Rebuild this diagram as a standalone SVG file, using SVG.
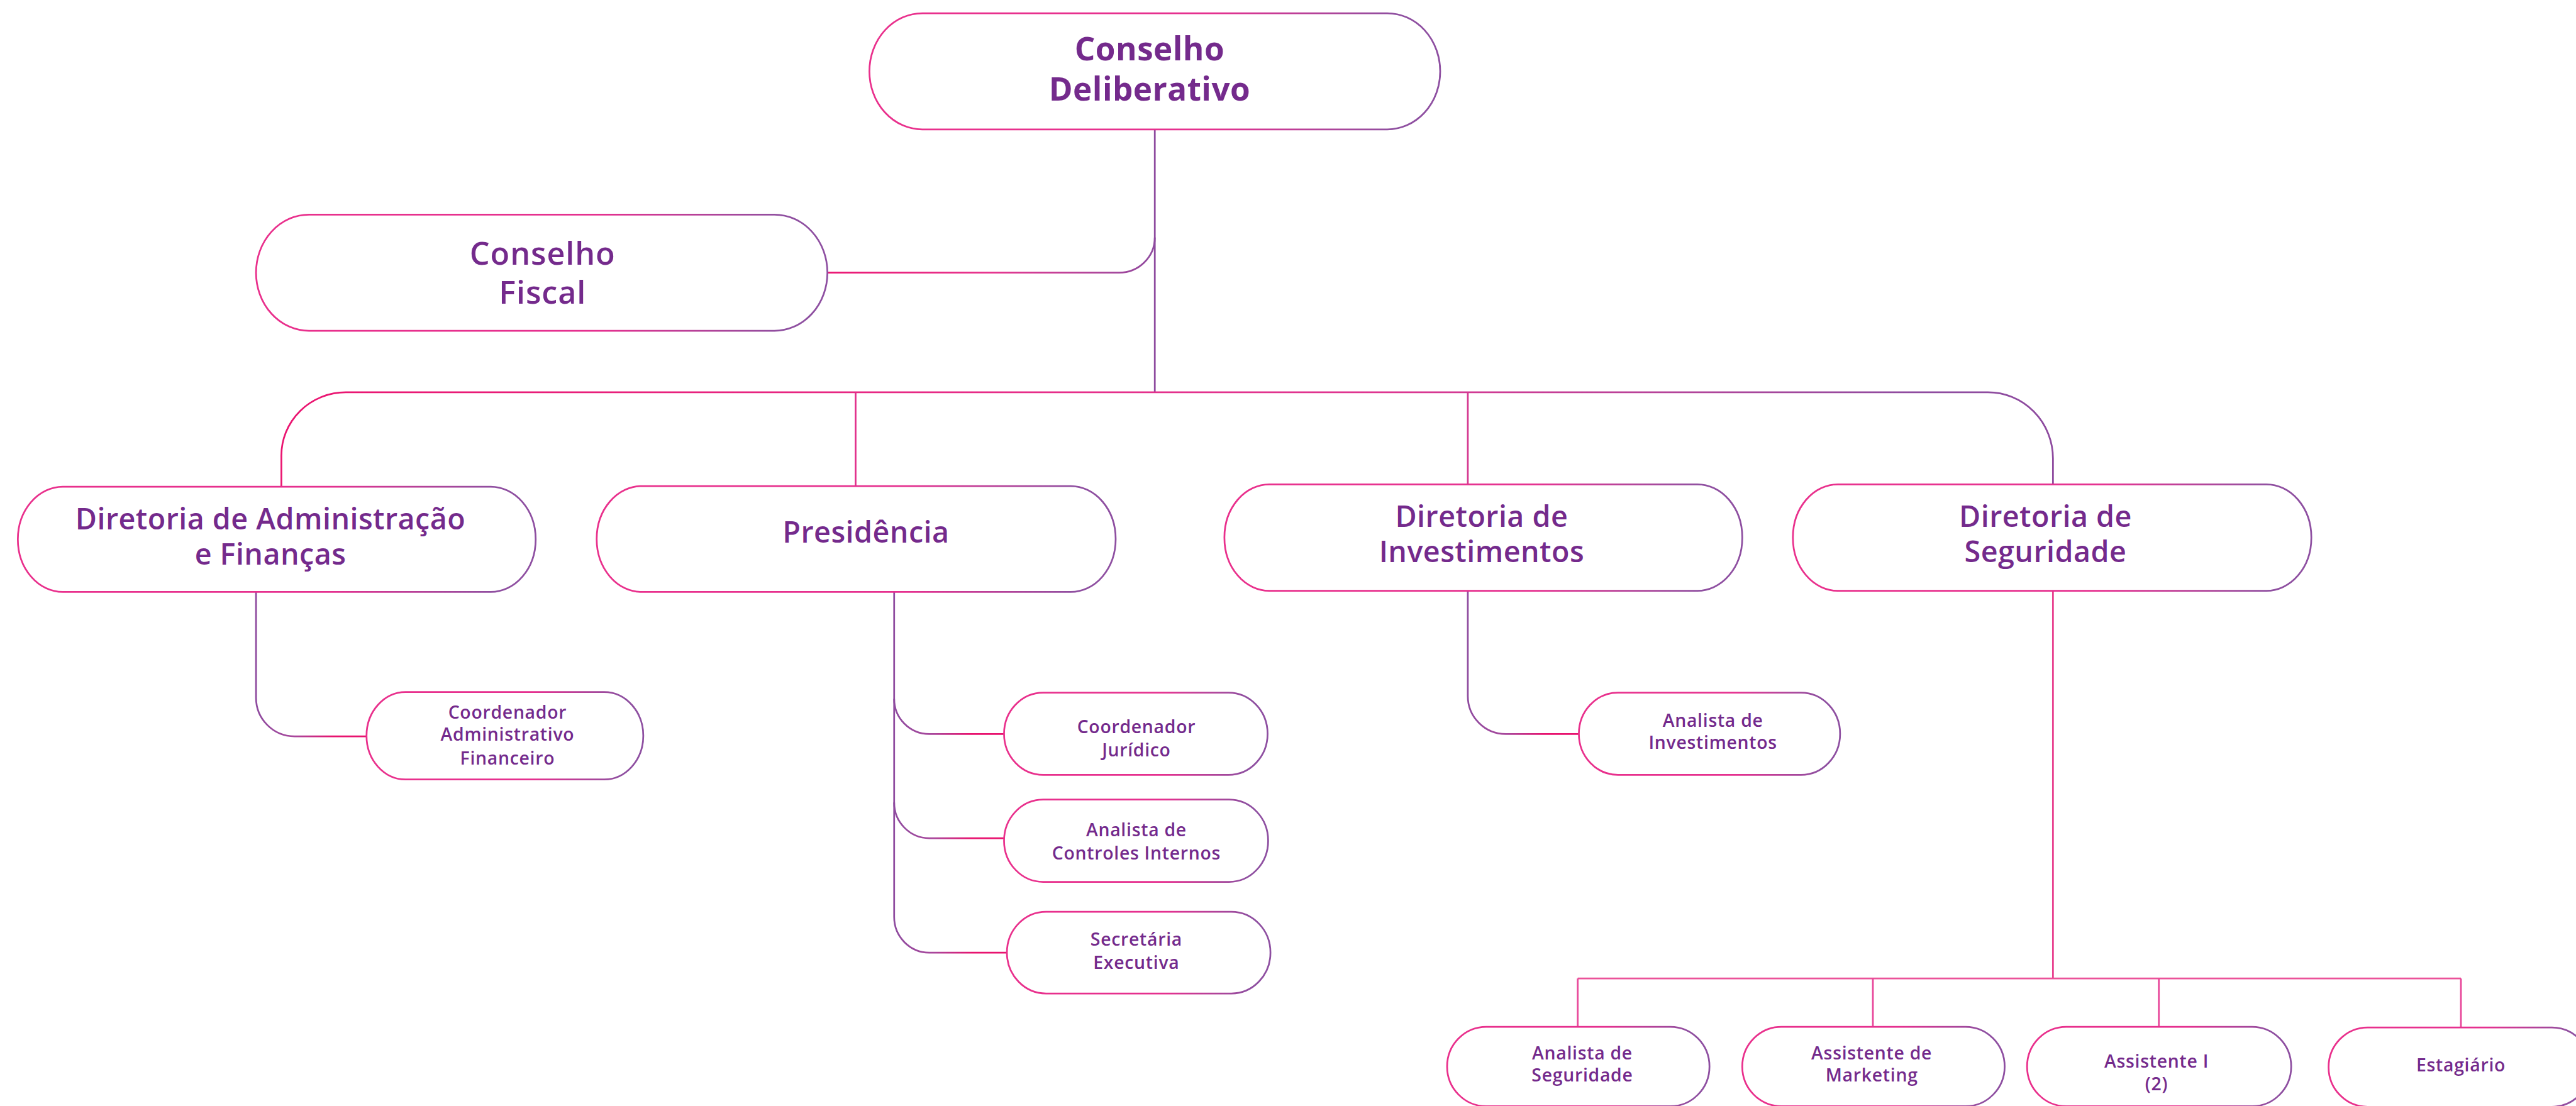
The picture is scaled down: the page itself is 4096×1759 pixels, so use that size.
<svg xmlns="http://www.w3.org/2000/svg" width="4096" height="1759" viewBox="0 0 4096 1759">
<defs>
<linearGradient id="gBox" x1="0" y1="0" x2="1" y2="0">
<stop offset="0" stop-color="#E9308C"/>
<stop offset="0.6" stop-color="#E5308F"/>
<stop offset="0.92" stop-color="#8F4FA0"/>
<stop offset="1" stop-color="#8E4FA1"/>
</linearGradient>
<linearGradient id="gCF" x1="0" y1="0" x2="1" y2="0">
<stop offset="0" stop-color="#EA1270"/>
<stop offset="0.5" stop-color="#E6308C"/>
<stop offset="1" stop-color="#8E4B9F"/>
</linearGradient>
<linearGradient id="gBus" x1="0" y1="0" x2="1" y2="0">
<stop offset="0" stop-color="#EA1470"/>
<stop offset="0.45" stop-color="#E62E8A"/>
<stop offset="0.62" stop-color="#DE3590"/>
<stop offset="0.8" stop-color="#B0449A"/>
<stop offset="0.92" stop-color="#8E4B9F"/>
<stop offset="1" stop-color="#8E4B9F"/>
</linearGradient>
<linearGradient id="gBranch" x1="0" y1="0" x2="1" y2="0">
<stop offset="0" stop-color="#8E4B9F"/>
<stop offset="0.35" stop-color="#A8479C"/>
<stop offset="0.7" stop-color="#E8136F"/>
<stop offset="1" stop-color="#E8136F"/>
</linearGradient>
</defs>
<style>
.box{fill:#FFFFFF;stroke:url(#gBox);stroke-width:3}
.c{fill:none;stroke-width:3}
.t{fill:#742A8C;font-family:"Open Sans","Liberation Sans",sans-serif;text-anchor:middle}
.t1{font-size:56px;font-weight:700;letter-spacing:0.5px}
.t2{font-size:55px;font-weight:600;letter-spacing:1px}
.t3{font-size:51px;font-weight:600;letter-spacing:0.5px}
.t4{font-size:31px;font-weight:600;letter-spacing:0.8px}
</style>
<rect width="4096" height="1759" fill="#FFFFFF"/>
<g transform="scale(0.9149)">
<g id="connectors">
<path class="c" d="M2007,225 V682" stroke="#8E4B9F"/>
<path class="c" d="M1438,474 H1945 A62 61 0 0 0 2007,413" stroke="url(#gCF)"/>
<path class="c" d="M489,846 V792 A112 110 0 0 1 601,682 H3455 A113 115 0 0 1 3568,797 V842" stroke="url(#gBus)"/>
<path class="c" d="M1487,682 V845" stroke="#E2308B"/>
<path class="c" d="M2551,682 V842" stroke="#D4368F"/>
<path class="c" d="M445,1029 V1213 A67 67 0 0 0 512,1280 H637" stroke="url(#gBranch)"/>
<path class="c" d="M1554,1029 V1594 A61 62 0 0 0 1615,1656 H1750" stroke="url(#gBranch)"/>
<path class="c" d="M1554,1215 A61 61 0 0 0 1615,1276 H1745" stroke="url(#gBranch)"/>
<path class="c" d="M1554,1395 A61 62 0 0 0 1615,1457 H1745" stroke="url(#gBranch)"/>
<path class="c" d="M2551,1027 V1210 A66 66 0 0 0 2617,1276 H2744" stroke="url(#gBranch)"/>
<path class="c" d="M3568,1027 V1701" stroke="#E8408E" stroke-width="2"/>
<path class="c" d="M2742,1701 H4277" stroke="#EB5299" stroke-width="4.5"/>
<path class="c" d="M2742,1701 V1785 M3255,1701 V1785 M3752,1701 V1785 M4277,1701 V1786" stroke="#E8479A" stroke-width="2"/>
</g>
<g id="conselho-deliberativo">
<rect class="box" x="1511" y="23" width="992" height="202" rx="92" ry="101"/>
<text class="t t1" x="1998" y="105">Conselho</text>
<text class="t t1" x="1998" y="175">Deliberativo</text>
</g>
<g id="conselho-fiscal">
<rect class="box" x="445" y="373" width="993" height="202" rx="92" ry="101"/>
<text class="t t2" x="943" y="460">Conselho</text>
<text class="t t2" x="943" y="528">Fiscal</text>
</g>
<g id="dir-adm-financas">
<rect class="box" x="31" y="846" width="900" height="183" rx="78" ry="91.5"/>
<text class="t t3" x="470" y="920">Diretoria de Administração</text>
<text class="t t3" x="470" y="981">e Finanças</text>
</g>
<g id="presidencia">
<rect class="box" x="1037" y="845" width="902" height="184" rx="78" ry="92"/>
<text class="t t3" x="1505" y="943">Presidência</text>
</g>
<g id="dir-investimentos">
<rect class="box" x="2128" y="842" width="900" height="185" rx="78" ry="92"/>
<text class="t t3" x="2575" y="916">Diretoria de</text>
<text class="t t3" x="2575" y="977">Investimentos</text>
</g>
<g id="dir-seguridade">
<rect class="box" x="3116" y="842" width="901" height="185" rx="78" ry="92"/>
<text class="t t3" x="3555" y="916">Diretoria de</text>
<text class="t t3" x="3555" y="977">Seguridade</text>
</g>
<g id="coord-adm-fin">
<rect class="box" x="637" y="1203" width="481" height="152" rx="68" ry="76"/>
<text class="t t4" x="882" y="1249">Coordenador</text>
<text class="t t4" x="882" y="1288">Administrativo</text>
<text class="t t4" x="882" y="1329">Financeiro</text>
</g>
<g id="coord-juridico">
<rect class="box" x="1745" y="1204" width="458" height="143" rx="68" ry="71.5"/>
<text class="t t4" x="1975" y="1274">Coordenador</text>
<text class="t t4" x="1975" y="1315">Jurídico</text>
</g>
<g id="analista-controles">
<rect class="box" x="1745" y="1390" width="459" height="143" rx="68" ry="71.5"/>
<text class="t t4" x="1975" y="1454">Analista de</text>
<text class="t t4" x="1975" y="1494">Controles Internos</text>
</g>
<g id="secretaria-executiva">
<rect class="box" x="1750" y="1585" width="458" height="142" rx="68" ry="71"/>
<text class="t t4" x="1975" y="1644">Secretária</text>
<text class="t t4" x="1975" y="1684">Executiva</text>
</g>
<g id="analista-investimentos">
<rect class="box" x="2744" y="1204" width="454" height="143" rx="68" ry="71.5"/>
<text class="t t4" x="2977" y="1263">Analista de</text>
<text class="t t4" x="2977" y="1302">Investimentos</text>
</g>
<g id="analista-seguridade">
<rect class="box" x="2515" y="1785" width="456" height="138" rx="68" ry="69"/>
<text class="t t4" x="2750" y="1842">Analista de</text>
<text class="t t4" x="2750" y="1880">Seguridade</text>
</g>
<g id="assistente-marketing">
<rect class="box" x="3028" y="1785" width="456" height="138" rx="68" ry="69"/>
<text class="t t4" x="3253" y="1842">Assistente de</text>
<text class="t t4" x="3253" y="1880">Marketing</text>
</g>
<g id="assistente-i">
<rect class="box" x="3523" y="1785" width="459" height="138" rx="68" ry="69"/>
<text class="t t4" x="3748" y="1856">Assistente I</text>
<text class="t t4" x="3748" y="1895">(2)</text>
</g>
<g id="estagiario">
<rect class="box" x="4047" y="1786" width="456" height="138" rx="68" ry="69"/>
<text class="t t4" x="4277" y="1862">Estagiário</text>
</g>
</g>
</svg>
